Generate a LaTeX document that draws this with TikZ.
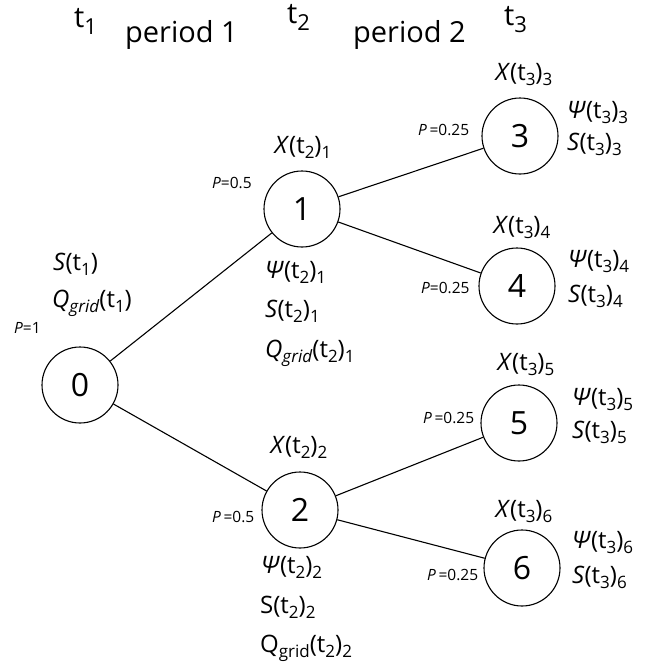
\documentclass[tikz,border=0pt]{standalone}
\usepackage{fontspec}
\setmainfont{Open Sans}
\newcommand{\lo}[1]{\raisebox{-0.42ex}{\fontsize{17}{17}\selectfont #1}}
\newcommand{\hlo}[1]{\raisebox{-7.5pt}{\fontsize{22}{22}\selectfont #1}}
\newcommand{\tl}[1]{(t\lo{#1})}
\begin{document}
\begin{tikzpicture}[x=1pt,y=-1pt,
  st/.style={circle,draw,line width=1.1pt,minimum size=76pt,inner sep=0pt,font=\fontsize{32}{32}\selectfont},
  lb/.style={font=\fontsize{24}{24}\selectfont,inner sep=0pt},
  pb/.style={font=\fontsize{15.5}{15.5}\selectfont,inner sep=0pt},
  hd/.style={font=\fontsize{29}{29}\selectfont,inner sep=0pt},
  edge/.style={line width=1.1pt}]
\useasboundingbox (0,0) rectangle (657,665);
% header
\node[hd,anchor=base west] (h1) at (74,27) {t\hlo{1}};
\node[hd,anchor=base west] (p1) at (125,42) {period 1};
\node[hd,anchor=base west] (h2) at (287,23) {t\hlo{2}};
\node[hd,anchor=base west] (p2) at (353,42) {period 2};
\node[hd,anchor=base west] (h3) at (504,25) {t\hlo{3}};
% states
\node[st] (n0) at (80,385) {0};
\node[st] (n1) at (302,209) {1};
\node[st] (n2) at (300,510) {2};
\node[st] (n3) at (520,136) {3};
\node[st] (n4) at (517,286) {4};
\node[st] (n5) at (519,423) {5};
\node[st] (n6) at (522,568) {6};
\draw[edge] (n0) -- (n1);
\draw[edge] (n0) -- (n2);
\draw[edge] (n1) -- (n3);
\draw[edge] (n1) -- (n4);
\draw[edge] (n2) -- (n5);
\draw[edge] (n2) -- (n6);
% node 0 labels
\node[lb,anchor=base west] (s0) at (53,270) {\textit{S}\tl{1}};
\node[lb,anchor=base west] (q0) at (52,307) {\textit{Q}\lo{\textit{grid}}\tl{1}};
\node[pb,anchor=base west] (pr0) at (14,333) {\textit{P}=1};
% node 1 labels
\node[lb,anchor=base] (x1) at (303,153) {\textit{X}\tl{2}\lo{1}};
\node[pb,anchor=base west] (pr1) at (212,188) {\textit{P}=0.5};
\node[lb,anchor=base west] (y1) at (265,278) {\textit{Ψ}\tl{2}\lo{1}};
\node[lb,anchor=base west] (s1) at (265,317) {\textit{S}\tl{2}\lo{1}};
\node[lb,anchor=base west] (q1) at (265,357) {\textit{Q}\lo{\textit{grid}}\tl{2}\lo{1}};
% node 2 labels
\node[lb,anchor=base] (x2) at (299,453) {\textit{X}\tl{2}\lo{2}};
\node[pb,anchor=base west] (pr2) at (212,522) {\textit{P}\,=0.5};
\node[lb,anchor=base west] (y2) at (261,573) {\textit{Ψ}\tl{2}\lo{2}};
\node[lb,anchor=base west] (s2) at (260,613) {S\tl{2}\lo{2}};
\node[lb,anchor=base west] (q2) at (260,652) {Q\lo{grid}\tl{2}\lo{2}};
% node 3 labels
\node[lb,anchor=base] (x3) at (524,80) {\textit{X}\tl{3}\lo{3}};
\node[pb,anchor=base west] (pr3) at (418,135) {\textit{P}\,=0.25};
\node[lb,anchor=base west] (y3) at (567,118) {\textit{Ψ}\tl{3}\lo{3}};
\node[lb,anchor=base west] (s3) at (567,150) {\textit{S}\tl{3}\lo{3}};
% node 4 labels
\node[lb,anchor=base] (x4) at (522,233) {\textit{X}\tl{3}\lo{4}};
\node[pb,anchor=base west] (pr4) at (421,293) {\textit{P}=0.25};
\node[lb,anchor=base west] (y4) at (568,267) {\textit{Ψ}\tl{3}\lo{4}};
\node[lb,anchor=base west] (s4) at (568,302) {\textit{S}\tl{3}\lo{4}};
% node 5 labels
\node[lb,anchor=base] (x5) at (526,370) {\textit{X}\tl{3}\lo{5}};
\node[pb,anchor=base west] (pr5) at (423,423) {\textit{P}\,=0.25};
\node[lb,anchor=base west] (y5) at (572,405) {\textit{Ψ}\tl{3}\lo{5}};
\node[lb,anchor=base west] (s5) at (572,438) {\textit{S}\tl{3}\lo{5}};
% node 6 labels
\node[lb,anchor=base] (x6) at (524,517) {\textit{X}\tl{3}\lo{6}};
\node[pb,anchor=base west] (pr6) at (427,580) {\textit{P}\,=0.25};
\node[lb,anchor=base west] (y6) at (572,548) {\textit{Ψ}\tl{3}\lo{6}};
\node[lb,anchor=base west] (s6) at (572,583) {\textit{S}\tl{3}\lo{6}};
\end{tikzpicture}
\end{document}
